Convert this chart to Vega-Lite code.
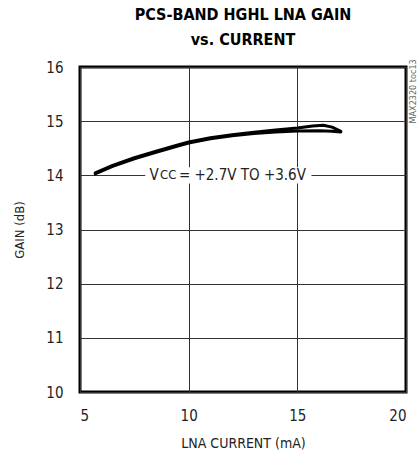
{
  "$schema": "https://vega.github.io/schema/vega-lite/v6.json",
  "width": 326,
  "height": 325,
  "autosize": "none",
  "padding": {"left": 80, "top": 67, "right": 12, "bottom": 61},
  "title": {
    "text": ["PCS-BAND HGHL LNA GAIN", "vs. CURRENT"],
    "font": "DejaVu Sans Condensed, Roboto, sans-serif",
    "fontSize": 16,
    "fontWeight": "bold",
    "lineHeight": 25,
    "anchor": "middle",
    "frame": "group",
    "offset": 11,
    "color": "black"
  },
  "config": {
    "view": {"stroke": "black", "strokeWidth": 3},
    "font": "DejaVu Sans Condensed, Roboto, sans-serif",
    "axis": {
      "domain": false,
      "ticks": false,
      "grid": true,
      "gridColor": "#333",
      "gridWidth": 1,
      "gridOpacity": 1,
      "labelColor": "#222",
      "titleColor": "#222",
      "labelFont": "DejaVu Sans Condensed, Roboto, sans-serif",
      "titleFont": "DejaVu Sans Condensed, Roboto, sans-serif",
      "labelFontSize": 15,
      "titleFontWeight": "normal",
      "format": "d"
    }
  },
  "datasets": {
    "curves": [
      {"vcc": "upper", "current": 5.7, "gain": 14.045},
      {"vcc": "upper", "current": 6.5, "gain": 14.185},
      {"vcc": "upper", "current": 7.5, "gain": 14.325},
      {"vcc": "upper", "current": 8.5, "gain": 14.445},
      {"vcc": "upper", "current": 9.5, "gain": 14.56},
      {"vcc": "upper", "current": 10, "gain": 14.615},
      {"vcc": "upper", "current": 11, "gain": 14.695},
      {"vcc": "upper", "current": 12, "gain": 14.75},
      {"vcc": "upper", "current": 13, "gain": 14.795},
      {"vcc": "upper", "current": 14, "gain": 14.835},
      {"vcc": "upper", "current": 15, "gain": 14.875},
      {"vcc": "upper", "current": 15.7, "gain": 14.91},
      {"vcc": "upper", "current": 16.2, "gain": 14.925},
      {"vcc": "upper", "current": 16.6, "gain": 14.89},
      {"vcc": "upper", "current": 17.0, "gain": 14.81},
      {"vcc": "lower", "current": 5.7, "gain": 14.025},
      {"vcc": "lower", "current": 6.5, "gain": 14.165},
      {"vcc": "lower", "current": 7.5, "gain": 14.305},
      {"vcc": "lower", "current": 8.5, "gain": 14.425},
      {"vcc": "lower", "current": 9.5, "gain": 14.54},
      {"vcc": "lower", "current": 10, "gain": 14.595},
      {"vcc": "lower", "current": 11, "gain": 14.675},
      {"vcc": "lower", "current": 12, "gain": 14.73},
      {"vcc": "lower", "current": 13, "gain": 14.77},
      {"vcc": "lower", "current": 14, "gain": 14.80},
      {"vcc": "lower", "current": 15, "gain": 14.82},
      {"vcc": "lower", "current": 16, "gain": 14.822},
      {"vcc": "lower", "current": 16.6, "gain": 14.812},
      {"vcc": "lower", "current": 17.0, "gain": 14.80}
    ],
    "box": [{"x1": 8.0, "x2": 15.65, "y1": 13.85, "y2": 14.15}],
    "labels": [
      {"current": 8.2, "gain": 14.0, "t": "V", "size": 15, "dy": 0},
      {"current": 8.68, "gain": 14.0, "t": "CC", "size": 13, "dy": 4},
      {"current": 9.55, "gain": 14.0, "t": "= +2.7V TO +3.6V", "size": 15, "dy": 0}
    ],
    "note": [{"current": 20.32, "gain": 15.55, "t": "MAX2320 toc13"}]
  },
  "layer": [
    {
      "data": {"name": "curves"},
      "mark": {"type": "line", "color": "black", "strokeWidth": 3, "strokeCap": "round", "strokeJoin": "round"},
      "encoding": {
        "x": {
          "field": "current", "type": "quantitative",
          "scale": {"domain": [5, 20], "nice": false, "zero": false},
          "axis": {"values": [5, 10, 15, 20], "title": "LNA CURRENT (mA)", "titleFontSize": 14, "labelPadding": 16, "titlePadding": 13}
        },
        "y": {
          "field": "gain", "type": "quantitative",
          "scale": {"domain": [10, 16], "nice": false, "zero": false},
          "axis": {"values": [10, 11, 12, 13, 14, 15, 16], "title": "GAIN (dB)", "titleFontSize": 13, "labelPadding": 17, "titlePadding": 19}
        },
        "detail": {"field": "vcc"},
        "order": {"field": "current", "type": "quantitative"}
      }
    },
    {
      "data": {"name": "box"},
      "mark": {"type": "rect", "fill": "white", "stroke": null},
      "encoding": {
        "x": {"field": "x1", "type": "quantitative"},
        "x2": {"field": "x2"},
        "y": {"field": "y1", "type": "quantitative"},
        "y2": {"field": "y2"}
      }
    },
    {
      "data": {"name": "labels"},
      "mark": {"type": "text", "align": "left", "baseline": "middle", "color": "#222", "font": "DejaVu Sans Condensed, Roboto, sans-serif"},
      "encoding": {
        "x": {"field": "current", "type": "quantitative"},
        "y": {"field": "gain", "type": "quantitative"},
        "text": {"field": "t"},
        "size": {"field": "size", "type": "quantitative", "scale": null},
        "yOffset": {"field": "dy", "type": "quantitative", "scale": null}
      }
    },
    {
      "data": {"name": "note"},
      "mark": {"type": "text", "angle": 270, "align": "center", "baseline": "middle", "fontSize": 9, "color": "#666", "font": "DejaVu Sans Condensed, Roboto, sans-serif"},
      "encoding": {
        "x": {"field": "current", "type": "quantitative"},
        "y": {"field": "gain", "type": "quantitative"},
        "text": {"field": "t"}
      }
    }
  ]
}
